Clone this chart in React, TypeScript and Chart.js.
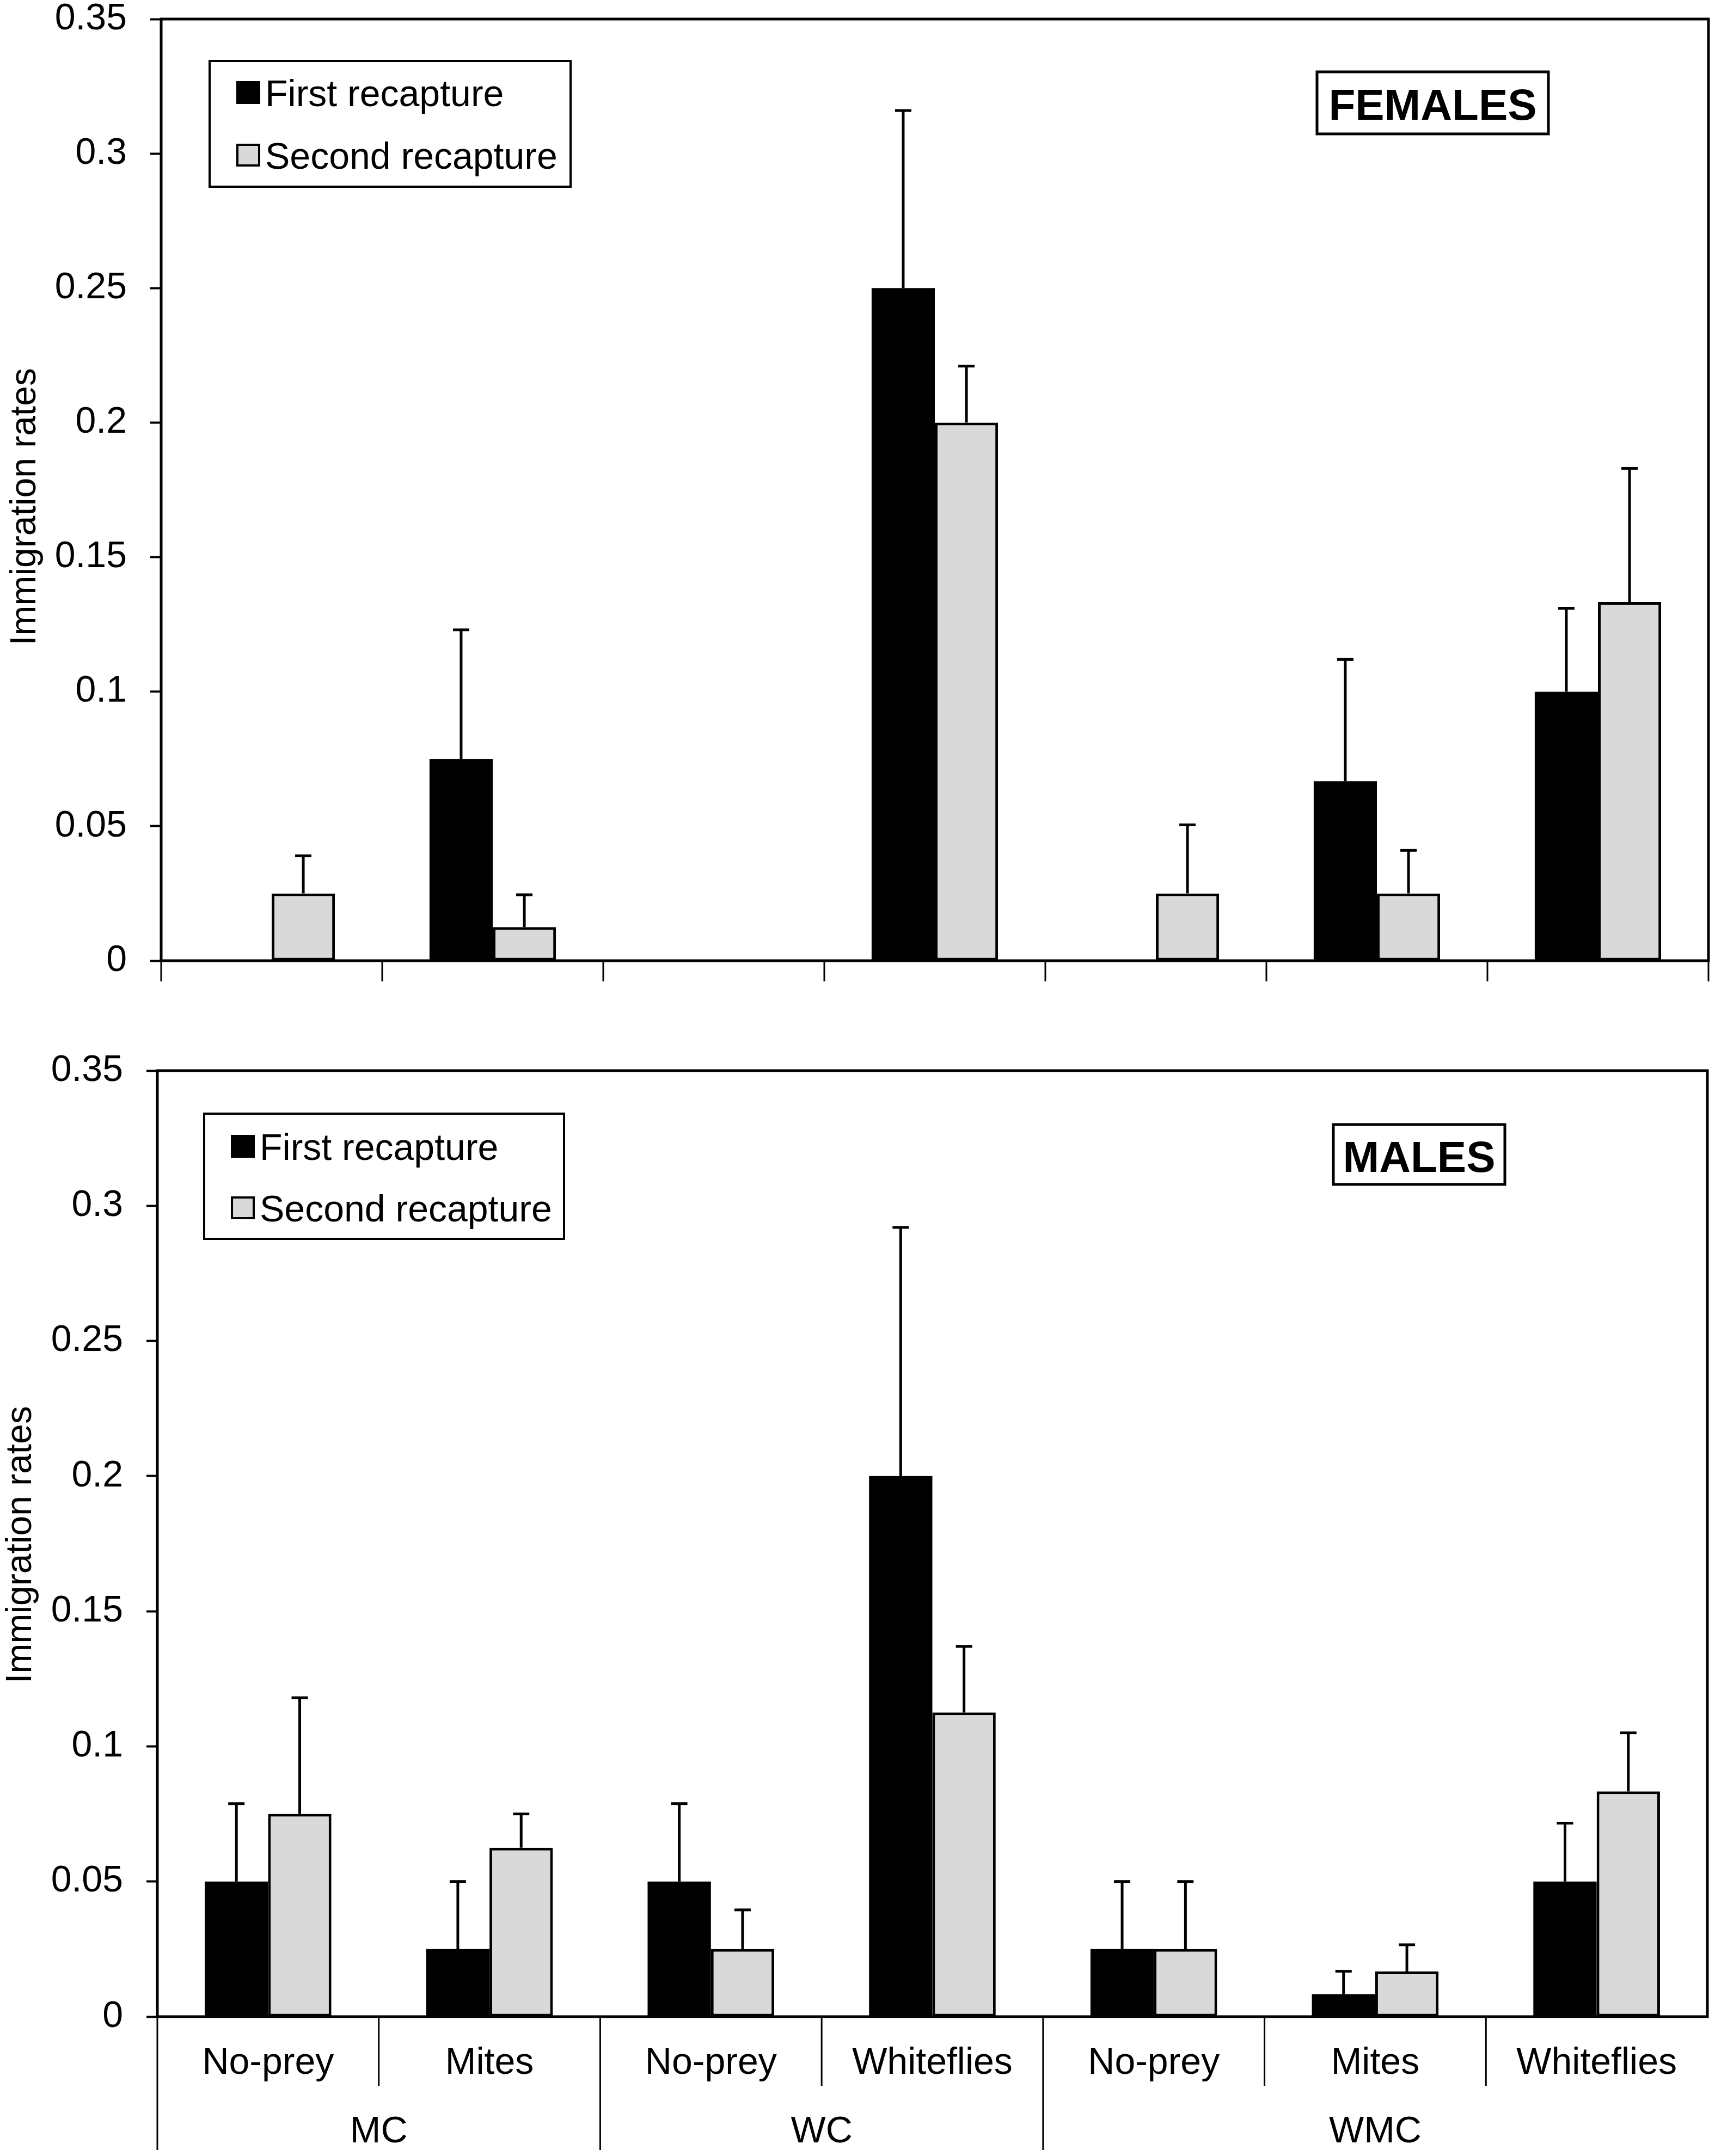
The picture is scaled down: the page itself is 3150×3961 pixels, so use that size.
import React, { useEffect, useRef } from 'react';
import { Chart, registerables } from 'chart.js';

Chart.register(...registerables);

// ---------------- data ----------------
const categories = ['No-prey', 'Mites', 'No-prey', 'Whiteflies', 'No-prey', 'Mites', 'Whiteflies'];
const groupNames = ['MC', 'WC', 'WMC'];
const groupSpans = [2, 2, 3];
const seriesNames = ['First recapture', 'Second recapture'];
const yTickLabels = ['0', '0.05', '0.1', '0.15', '0.2', '0.25', '0.3', '0.35'];
const axisTitle = 'Immigration rates';
const panelNames = ['FEMALES', 'MALES'];

// females (bar value and upper end of error bar)
const femalesFirst = [0, 0.075, 0, 0.25, 0, 0.0667, 0.1];
const femalesFirstErr = [null, 0.123, null, 0.316, null, 0.112, 0.131];
const femalesSecond = [0.025, 0.0125, 0, 0.2, 0.025, 0.025, 0.1333];
const femalesSecondErr = [0.039, 0.0245, null, 0.221, 0.0505, 0.041, 0.183];

// males
const malesFirst = [0.05, 0.025, 0.05, 0.2, 0.025, 0.0083, 0.05];
const malesFirstErr = [0.0788, 0.05, 0.0788, 0.292, 0.05, 0.0168, 0.0716];
const malesSecond = [0.075, 0.0625, 0.025, 0.1125, 0.025, 0.0167, 0.0833];
const malesSecondErr = [0.118, 0.075, 0.0395, 0.137, 0.05, 0.0266, 0.105];

// ---------------- layout / style ----------------
const W = 3150;
const H = 3961;
const FONT = '"Liberation Sans", Arial, Helvetica, sans-serif';
const GRAY = '#d9d9d9';
const TEXT_SIZE = 68;

type PanelCfg = {
  first: number[];
  firstErr: (number | null)[];
  second: number[];
  secondErr: (number | null)[];
  area: { left: number; right: number; top: number; bottom: number };
  showXLabels: boolean;
  sepInner: number;
  sepGroup: number;
  sepRightEnd: boolean;
  groupBaseline: number | null;
  legend: { x: number; y: number; w: number; h: number; swX: number; textX: number; baselines: number[] };
  label: { text: string; x: number; y: number; w: number; h: number; baseline: number };
  title: { baselineX: number; centerY: number };
};

const panels: PanelCfg[] = [
  {
    first: femalesFirst,
    firstErr: femalesFirstErr,
    second: femalesSecond,
    secondErr: femalesSecondErr,
    area: { left: 296, right: 3138, top: 35, bottom: 1765 },
    showXLabels: false,
    sepInner: 1803,
    sepGroup: 1803,
    sepRightEnd: true,
    groupBaseline: null,
    legend: { x: 385, y: 112, w: 663, h: 231, swX: 436, textX: 487, baselines: [195, 310] },
    label: { text: panelNames[0], x: 2419, y: 132, w: 425, h: 114, baseline: 220 },
    title: { baselineX: 65, centerY: 931 },
  },
  {
    first: malesFirst,
    firstErr: malesFirstErr,
    second: malesSecond,
    secondErr: malesSecondErr,
    area: { left: 289, right: 3136, top: 1967, bottom: 3705 },
    showXLabels: true,
    sepInner: 3832,
    sepGroup: 3950,
    sepRightEnd: false,
    groupBaseline: 3936,
    legend: { x: 375, y: 2046, w: 661, h: 230, swX: 426, textX: 477, baselines: [2131, 2244] },
    label: { text: panelNames[1], x: 2449, y: 2066, w: 315, h: 110, baseline: 2153 },
    title: { baselineX: 57, centerY: 2838 },
  },
];

const decorPlugin = {
  id: 'decor',
  afterDatasetsDraw(chart: any) {
    const cfg: PanelCfg = chart.options.plugins.decor.panel;
    const ctx: CanvasRenderingContext2D = chart.ctx;
    const { left, right, top, bottom } = chart.chartArea;
    const xs = chart.scales.x;
    const ys = chart.scales.y;
    ctx.save();
    ctx.strokeStyle = '#000';
    ctx.lineCap = 'butt';

    // error bars (upper only, with cap)
    chart.data.datasets.forEach((ds: any, d: number) => {
      const meta = chart.getDatasetMeta(d);
      meta.data.forEach((bar: any, i: number) => {
        const e = ds.errTop[i];
        if (e == null) return;
        const yTop = ys.getPixelForValue(e);
        ctx.lineWidth = 5;
        ctx.beginPath();
        ctx.moveTo(bar.x, bar.y);
        ctx.lineTo(bar.x, yTop);
        ctx.stroke();
        ctx.beginPath();
        ctx.moveTo(bar.x - 15, yTop);
        ctx.lineTo(bar.x + 15, yTop);
        ctx.stroke();
      });
    });

    // plot frame
    ctx.lineWidth = 5;
    ctx.strokeRect(left, top, right - left, bottom - top);

    // category separators below the axis
    const n = categories.length;
    const groupBounds = new Set<number>();
    let acc = 0;
    groupBounds.add(0);
    groupSpans.forEach((s) => {
      acc += s;
      groupBounds.add(acc);
    });
    const boundX = (i: number) =>
      i === 0 ? left : i === n ? right : (xs.getPixelForValue(i - 1) + xs.getPixelForValue(i)) / 2;
    ctx.lineWidth = 3;
    for (let i = 0; i <= n; i++) {
      if (i === n && !cfg.sepRightEnd) continue;
      const isGroup = groupBounds.has(i) && i !== n;
      const yEnd = isGroup ? cfg.sepGroup : cfg.sepInner;
      const x = boundX(i);
      ctx.beginPath();
      ctx.moveTo(x, bottom);
      ctx.lineTo(x, yEnd);
      ctx.stroke();
    }

    // group labels
    if (cfg.groupBaseline != null) {
      ctx.fillStyle = '#000';
      ctx.font = `${TEXT_SIZE}px ${FONT}`;
      ctx.textAlign = 'center';
      ctx.textBaseline = 'alphabetic';
      let start = 0;
      groupNames.forEach((g, gi) => {
        const end = start + groupSpans[gi];
        const cx = (boundX(start) + boundX(end)) / 2;
        ctx.fillText(g, cx, cfg.groupBaseline as number);
        start = end;
      });
    }

    // axis title
    ctx.save();
    ctx.translate(cfg.title.baselineX, cfg.title.centerY);
    ctx.rotate(-Math.PI / 2);
    ctx.fillStyle = '#000';
    ctx.font = `66px ${FONT}`;
    ctx.textAlign = 'center';
    ctx.textBaseline = 'alphabetic';
    ctx.fillText(axisTitle, 0, 0);
    ctx.restore();

    // legend
    const lg = cfg.legend;
    ctx.fillStyle = '#fff';
    ctx.fillRect(lg.x, lg.y, lg.w, lg.h);
    ctx.lineWidth = 4;
    ctx.strokeRect(lg.x, lg.y, lg.w, lg.h);
    chart.data.datasets.forEach((ds: any, d: number) => {
      const b = lg.baselines[d];
      ctx.fillStyle = ds.backgroundColor;
      ctx.fillRect(lg.swX, b - 44, 40, 38);
      ctx.lineWidth = 4;
      ctx.strokeRect(lg.swX, b - 44, 40, 38);
      ctx.fillStyle = '#000';
      ctx.font = `${TEXT_SIZE}px ${FONT}`;
      ctx.textAlign = 'left';
      ctx.textBaseline = 'alphabetic';
      ctx.fillText(ds.label, lg.textX, b);
    });

    // panel label box
    const lb = cfg.label;
    ctx.fillStyle = '#fff';
    ctx.fillRect(lb.x, lb.y, lb.w, lb.h);
    ctx.lineWidth = 5;
    ctx.strokeRect(lb.x, lb.y, lb.w, lb.h);
    ctx.fillStyle = '#000';
    ctx.font = `bold 80px ${FONT}`;
    ctx.textAlign = 'center';
    ctx.textBaseline = 'alphabetic';
    ctx.fillText(lb.text, lb.x + lb.w / 2, lb.baseline);

    ctx.restore();
  },
};

function makeConfig(p: PanelCfg): any {
  return {
    type: 'bar',
    data: {
      labels: categories,
      datasets: [
        {
          label: seriesNames[0],
          data: p.first,
          errTop: p.firstErr,
          backgroundColor: '#000000',
          borderColor: '#000000',
          borderWidth: 0,
          borderSkipped: false,
        },
        {
          label: seriesNames[1],
          data: p.second,
          errTop: p.secondErr,
          backgroundColor: GRAY,
          borderColor: '#000000',
          borderWidth: 5,
          borderSkipped: false,
        },
      ],
    },
    options: {
      animation: false,
      responsive: false,
      maintainAspectRatio: false,
      devicePixelRatio: 1,
      datasets: { bar: { categoryPercentage: 0.572, barPercentage: 1 } },
      layout: {
        padding: { top: p.area.top, left: 0, right: W - p.area.right, bottom: 0 },
      },
      plugins: {
        legend: { display: false },
        tooltip: { enabled: false },
        title: { display: false },
        decor: { panel: p },
      },
      scales: {
        x: {
          type: 'category',
          offset: true,
          grid: { display: false, drawTicks: false, drawOnChartArea: false },
          border: { display: false },
          ticks: {
            display: p.showXLabels,
            color: '#000',
            font: { family: FONT, size: TEXT_SIZE, lineHeight: 1.2 },
            padding: 45,
            maxRotation: 0,
            minRotation: 0,
            autoSkip: false,
          },
          afterFit: (scale: any) => {
            scale.height = H - p.area.bottom;
            scale.paddingLeft = 0;
            scale.paddingRight = 0;
          },
        },
        y: {
          min: 0,
          max: 0.35,
          grid: {
            display: true,
            drawOnChartArea: false,
            drawTicks: true,
            tickLength: 20,
            tickWidth: 4,
            tickColor: '#000',
          },
          border: { display: false },
          ticks: {
            stepSize: 0.05,
            color: '#000',
            padding: 43,
            font: { family: FONT, size: TEXT_SIZE, lineHeight: 1 },
            callback: (v: number) => yTickLabels[Math.round(v / 0.05)] ?? '',
          },
          afterFit: (scale: any) => {
            scale.width = p.area.left;
            scale.paddingTop = 0;
            scale.paddingBottom = 0;
          },
        },
      },
    },
    plugins: [decorPlugin],
  };
}

function Panel({ p }: { p: PanelCfg }) {
  const ref = useRef<HTMLCanvasElement | null>(null);
  useEffect(() => {
    if (!ref.current) return;
    const chart = new Chart(ref.current, makeConfig(p));
    return () => chart.destroy();
  }, [p]);
  return (
    <canvas
      ref={ref}
      width={W}
      height={H}
      style={{ position: 'absolute', left: 0, top: 0, width: W, height: H }}
    />
  );
}

export default function App() {
  return (
    <div
      style={{
        position: 'absolute',
        left: 0,
        top: 0,
        width: W,
        height: H,
        background: '#ffffff',
        overflow: 'hidden',
      }}
    >
      {panels.map((p, i) => (
        <Panel key={i} p={p} />
      ))}
    </div>
  );
}
